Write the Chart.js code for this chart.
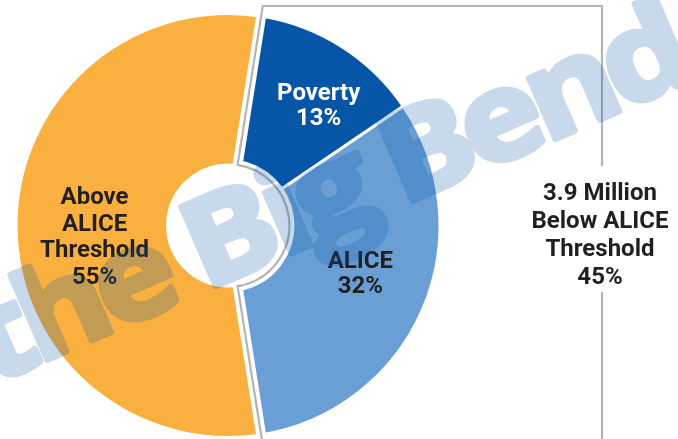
<!DOCTYPE html>
<html>
<head>
<meta charset="utf-8">
<script src="https://cdn.jsdelivr.net/npm/chart.js@4.4.0/dist/chart.umd.min.js"></script>
<style>
  html, body { margin: 0; padding: 0; background: #ffffff; }
</style>
</head>
<body>
<canvas id="chart" width="678" height="439"></canvas>
<script>
// ----------------------------------------
// DATA
// ----------------------------------------
const categories = ['Poverty', 'ALICE', 'Above ALICE Threshold'];
const shares = [13, 32, 55];
const sliceColors = ['#0755A6', '#6A9FD5', '#FAB03F'];
const sliceLabels = [['Poverty', '13%'], ['ALICE', '32%'], ['Above', 'ALICE', 'Threshold', '55%']];
const labelColors = ['#ffffff', '#231f20', '#231f20'];
const belowLines = ['3.9 Million', 'Below ALICE', 'Threshold', '45%'];
const watermark = 'the Big Bend';

// label placement (polar, relative to slice middle)
const labelRadius = [150, 141, 134];
const labelNudge = [4.8, -3.2, -5.3];   // degrees
const labelLineHeight = [25, 25, 26.7];

const deg = Math.PI / 180;
const labelFont = 'bold 24px Roboto, "Liberation Sans", sans-serif';

// ----------------------------------------
// FRAME, LABELS AND WATERMARK
// ----------------------------------------
const aliceFrame = {
    id: 'aliceFrame',
    afterDatasetsDraw(chart) {
        const ctx = chart.ctx;
        const arcs = chart.getDatasetMeta(0).data;
        const above = arcs[2];
        const cx = above.x, cy = above.y;
        const a0 = above.startAngle, a1 = above.endAngle;
        const rho = above.innerRadius + 1;
        const top = 6, right = 602, bottom = chart.height + 10;
        const gapTop = 166, gapBottom = 292;

        const onRay = (a, yy) => {
            const t = (yy - cy) / Math.sin(a);
            return [cx + t * Math.cos(a), yy];
        };
        const pTop = onRay(a1, top);
        const pBot = onRay(a0, bottom);

        const edgePath = () => {
            ctx.beginPath();
            ctx.moveTo(pBot[0], pBot[1]);
            ctx.arc(cx, cy, rho, a0, a1, true);
            ctx.lineTo(pTop[0], pTop[1]);
        };

        ctx.save();
        // white gap between the two groups
        edgePath();
        ctx.strokeStyle = '#ffffff';
        ctx.lineWidth = 10;
        ctx.stroke();

        // gray outline around the below-threshold group
        edgePath();
        ctx.lineTo(right, top);
        ctx.lineTo(right, gapTop);
        ctx.moveTo(right, gapBottom);
        ctx.lineTo(right, bottom);
        ctx.strokeStyle = '#b4b4b4';
        ctx.lineWidth = 2.2;
        ctx.stroke();

        // slice labels
        ctx.font = labelFont;
        ctx.textAlign = 'center';
        ctx.textBaseline = 'middle';
        arcs.forEach((arc, i) => {
            const mid = (arc.startAngle + arc.endAngle) / 2 + labelNudge[i] * deg;
            const x = cx + labelRadius[i] * Math.cos(mid);
            const y = cy + labelRadius[i] * Math.sin(mid);
            const lines = sliceLabels[i];
            const lh = labelLineHeight[i];
            ctx.fillStyle = labelColors[i];
            lines.forEach((t, k) => {
                ctx.fillText(t, x, y + (k - (lines.length - 1) / 2) * lh);
            });
        });

        // below-threshold summary
        ctx.fillStyle = '#231f20';
        belowLines.forEach((t, k) => {
            ctx.fillText(t, right - 2, 236 + (k - 1.5) * 28.3);
        });
        ctx.restore();
    },
    afterDraw(chart) {
        // watermark drawn opaque off-screen, then blended in one pass
        const off = document.createElement('canvas');
        off.width = chart.width;
        off.height = chart.height;
        const o = off.getContext('2d');
        o.translate(328, 200);
        o.rotate(-23.5 * deg);
        o.scale(1.12, 1);
        o.font = 'bold 122px "Open Sans", sans-serif';
        o.letterSpacing = '-7px';
        o.fillStyle = o.strokeStyle = '#0054a6';
        o.lineWidth = 6;
        o.lineJoin = 'round';
        o.textAlign = 'center';
        o.textBaseline = 'middle';
        o.fillText(watermark, 0, 0);
        o.strokeText(watermark, 0, 0);

        const ctx = chart.ctx;
        ctx.save();
        ctx.globalAlpha = 0.22;
        ctx.drawImage(off, 0, 0);
        ctx.restore();
    }
};

// ----------------------------------------
// CHART
// ----------------------------------------
new Chart(document.getElementById('chart'), {
    type: 'doughnut',
    data: {
        labels: categories,
        datasets: [{
            data: shares,
            backgroundColor: sliceColors,
            borderColor: '#ffffff',
            borderWidth: 3
        }]
    },
    options: {
        responsive: false,
        devicePixelRatio: 1,
        animation: false,
        cutout: '28.5%',
        rotation: (shares[2] / 100 * 360 - 180) / 2,
        layout: { padding: { left: 14, right: 236, top: 12, bottom: 0 } },
        plugins: {
            legend: { display: false },
            tooltip: { enabled: false }
        }
    },
    plugins: [aliceFrame]
});
</script>
</body>
</html>
